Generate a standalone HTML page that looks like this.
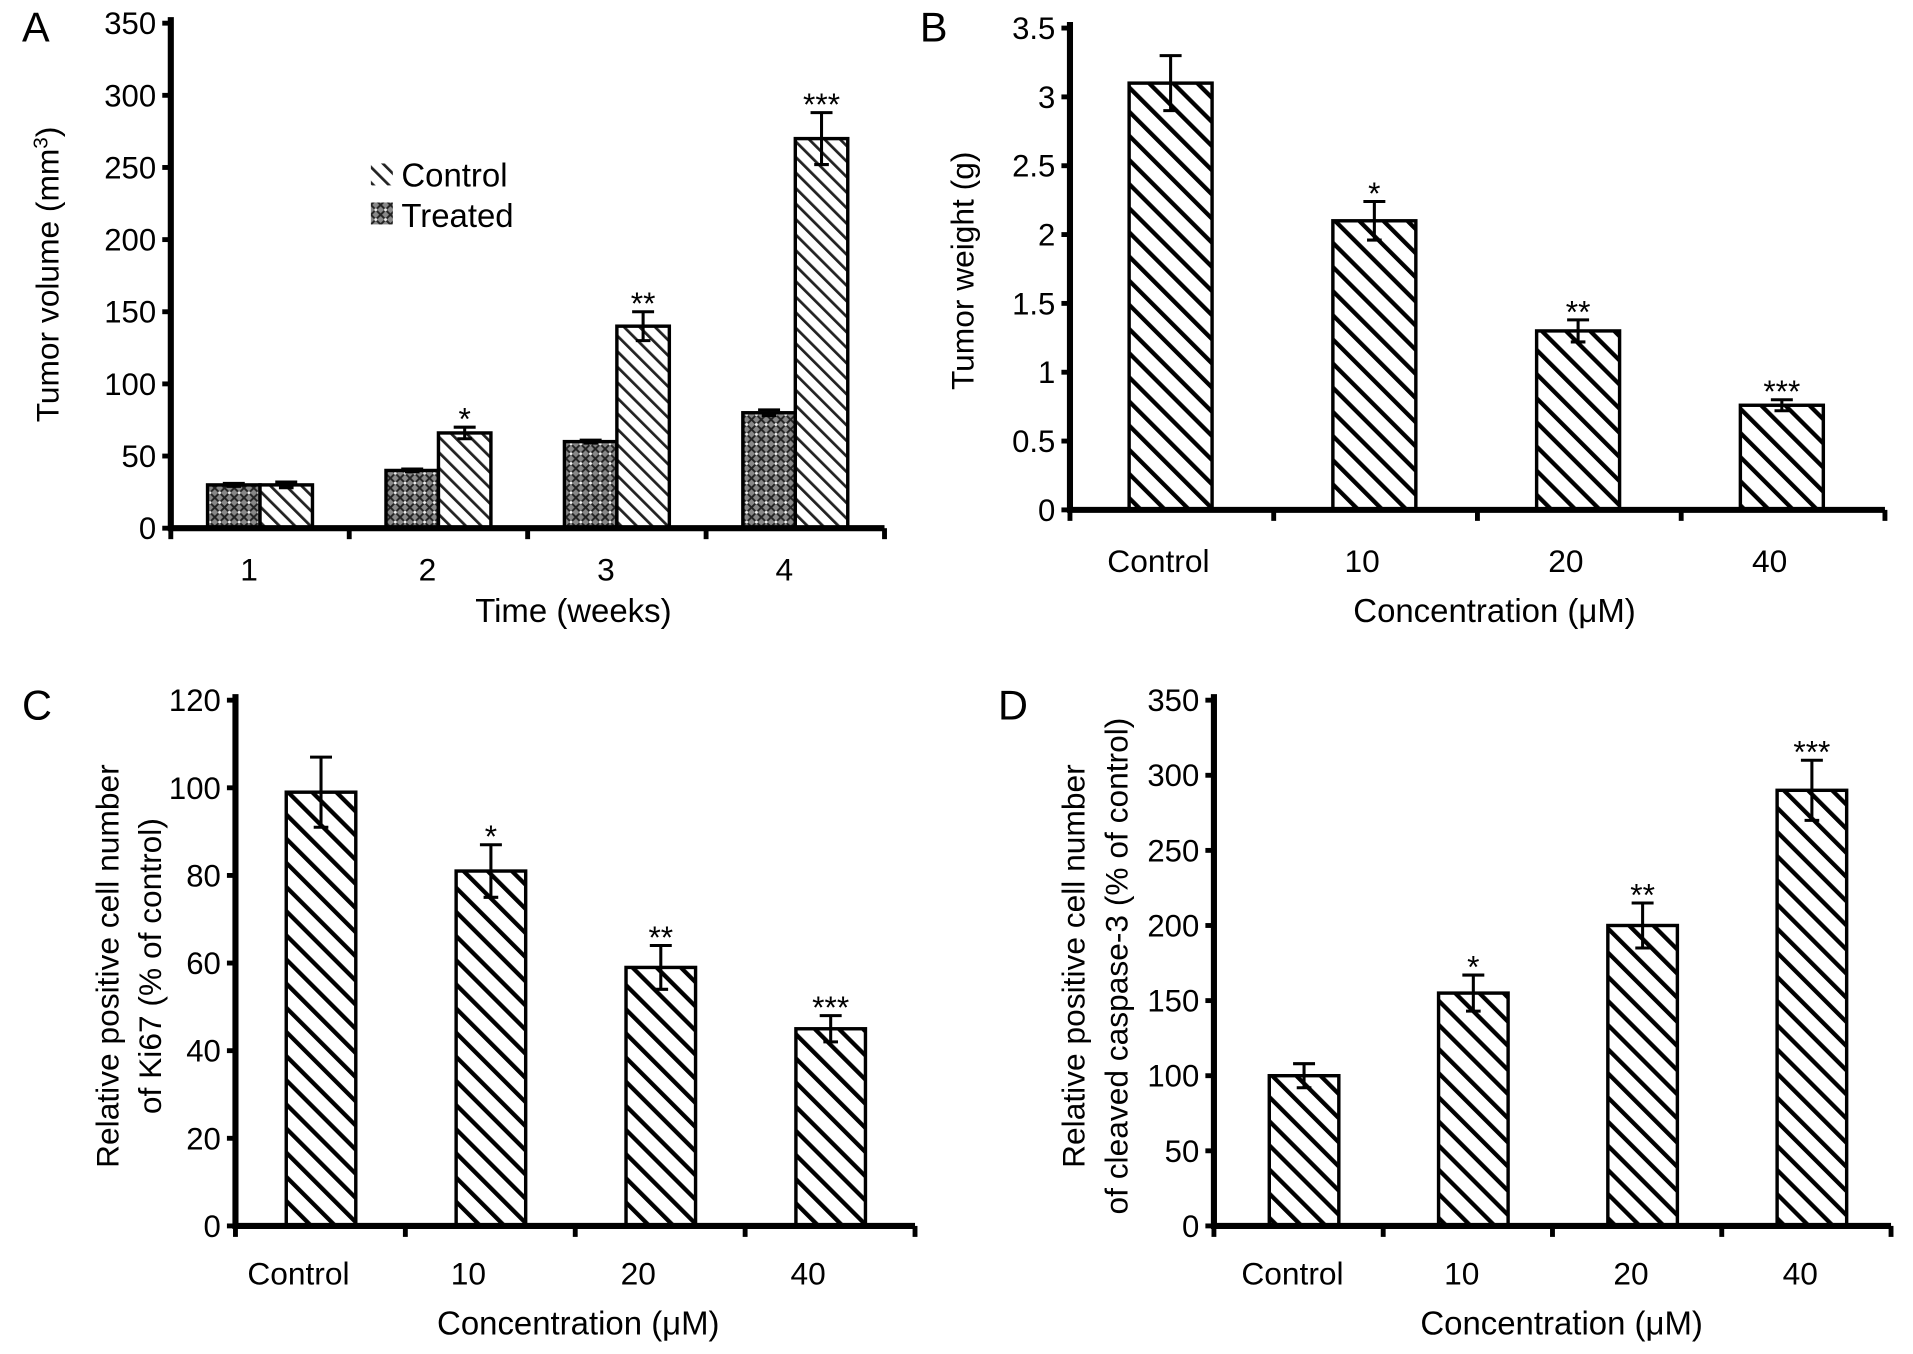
<!DOCTYPE html>
<html><head><meta charset="utf-8"><style>
html,body{margin:0;padding:0;background:#fff;}
svg{display:block;font-family:"Liberation Sans",sans-serif;}
</style></head><body>
<svg id="fig" width="1913" height="1354" viewBox="0 0 1568 1110" preserveAspectRatio="none" xmlns="http://www.w3.org/2000/svg">
<defs>
<pattern id="hatch" patternUnits="userSpaceOnUse" width="14" height="14" patternTransform="rotate(-45)">
<rect width="14" height="14" fill="#fff"/><line x1="0" y1="0" x2="0" y2="14" stroke="#000" stroke-width="7"/></pattern>
<pattern id="hatchA" patternUnits="userSpaceOnUse" width="9" height="9" patternTransform="rotate(-45)">
<rect width="9" height="9" fill="#fff"/><line x1="0" y1="0" x2="0" y2="9" stroke="#222" stroke-width="4.5"/></pattern>
<pattern id="cross" patternUnits="userSpaceOnUse" width="8" height="8">
<rect width="8" height="8" fill="#888"/><path d="M0,0L8,8M8,0L0,8" stroke="#222" stroke-width="1.6"/><circle cx="4" cy="4" r="1.2" fill="#eee"/></pattern>
</defs>
</svg>
<script>
// Panel A data
const weeks = ["1","2","3","4"];
const controlVol = [30, 66, 140, 270];
const controlVolErr = [2, 4, 10, 18];
const treatedVol = [30, 40, 60, 80];
const treatedVolErr = [1, 1, 1, 2];
const sigA = ["", "*", "**", "***"];
const ticksA = [0,50,100,150,200,250,300,350];
// Panel B data
const conc = ["Control","10","20","40"];
const weight = [3.1, 2.1, 1.3, 0.76];
const weightErr = [0.2, 0.14, 0.08, 0.04];
const sigB = ["", "*", "**", "***"];
const ticksB = ["0","0.5","1","1.5","2","2.5","3","3.5"];
// Panel C data
const ki67 = [99, 81, 59, 45];
const ki67Err = [8, 6, 5, 3];
const sigC = ["", "*", "**", "***"];
const ticksC = [0,20,40,60,80,100,120];
// Panel D data
const casp = [100, 155, 200, 290];
const caspErr = [8, 12, 15, 20];
const sigD = ["", "*", "**", "***"];
const ticksD = [0,50,100,150,200,250,300,350];

const svg = document.getElementById('fig');
const NS = 'http://www.w3.org/2000/svg';
function mk(tag, attrs, parent, text){
  const e = document.createElementNS(NS, tag);
  for (const k in attrs) e.setAttribute(k, attrs[k]);
  if (text !== undefined) e.textContent = text;
  (parent || svg).appendChild(e);
  return e;
}
function panel(cfg){
  const g = mk('g', {});
  
  
  const ymax = cfg.ymax;
  const y = v => cfg.y0 - (v / ymax) * (cfg.y0 - cfg.ytop);
  const step = (cfg.x1 - cfg.x0) / cfg.cats.length;
  cfg.series.forEach((s, si) => {
    s.values.forEach((v, i) => {
      const cx = cfg.x0 + step * (i + 0.5) + cfg.offset;
      const bx = cx + s.dx;
      const r = mk('rect', {x: bx, y: y(v), width: cfg.bw, height: cfg.y0 - y(v), fill: s.fill, stroke: '#000', 'stroke-width': 2.8}, g);
      
      
      const ex = bx + cfg.bw / 2, e = s.err[i];
      if (e > 0) {
        const eb = mk('path', {d: `M${ex},${y(v - e)}V${y(v + e)}M${ex - 9},${y(v + e)}H${ex + 9}M${ex - 6},${y(v - e)}H${ex + 6}`, stroke: '#000', 'stroke-width': 2.5, fill: 'none'}, g);
        
        
      }
      if (s.sig && s.sig[i]) {
        const t = mk('text', {x: ex, y: y(v + e) + 2, 'text-anchor': 'middle', 'font-size': 26}, g, s.sig[i]);
        
        
      }
    });
  });
  const ax = mk('path', {d: `M${cfg.x0},${cfg.ytop - 5}V${cfg.y0}H${cfg.x1}`, stroke: '#000', 'stroke-width': 5, fill: 'none'}, g);
  
  
  cfg.ticks.forEach(t => {
    const yy = y(parseFloat(t));
    mk('line', {x1: cfg.x0 - 7, x2: cfg.x0, y1: yy, y2: yy, stroke: '#000', 'stroke-width': 4}, g);
    const tl = mk('text', {x: cfg.x0 - 12, y: yy + 9, 'text-anchor': 'end', 'font-size': 25.5}, g, String(t));
    
    
  });
  for (let i = 0; i <= cfg.cats.length; i++) {
    const xx = cfg.x0 + step * i;
    mk('line', {x1: xx, x2: xx, y1: cfg.y0, y2: cfg.y0 + 9, stroke: '#000', 'stroke-width': 4}, g);
  }
  cfg.cats.forEach((c, i) => {
    const xl = mk('text', {x: cfg.x0 + step * (i + 0.5) + cfg.offset + cfg.labelDx, y: cfg.y0 + cfg.labDy, 'text-anchor': 'middle', 'font-size': 26}, g, c);
    
    
  });
  const xt = mk('text', {x: cfg.xtx, y: cfg.y0 + cfg.titDy, 'text-anchor': 'middle', 'font-size': 27}, g, cfg.xtitle);
  
  
  cfg.ytitle.forEach((line, li) => {
    const yt = mk('text', {x: 0, y: 0, 'text-anchor': 'middle', 'font-size': 26, transform: `translate(${cfg.ytx + li * 35},${cfg.yty}) rotate(-90)`}, g);
    yt.innerHTML = line;
    
    
  });
  const pl = mk('text', {x: cfg.lx, y: cfg.ly, 'font-size': 34}, g, cfg.letter);
  
  
  return g;
}
const gA = panel({name: 'panel-a-tumor-volume', letter: 'A', lx: 18, ly: 34, x0: 140, x1: 725, y0: 433, ytop: 19, ymax: 350, cats: weeks, bw: 43, offset: -1, labelDx: -8, labDy: 43, titDy: 77,
  ticks: ticksA, series: [
    {key: 'treated', values: treatedVol, err: treatedVolErr, fill: 'url(#cross)', dx: -42},
    {key: 'control', values: controlVol, err: controlVolErr, fill: 'url(#hatchA)', dx: 1, sig: sigA}],
  xtitle: 'Time (weeks)', xtx: 470, ytitle: ['Tumor volume (mm<tspan baseline-shift="super" font-size="17">3</tspan>)'], ytx: 48, yty: 225});
const gB = panel({name: 'panel-b-tumor-weight', letter: 'B', lx: 754, ly: 34, x0: 877, x1: 1545, y0: 418, ytop: 23, ymax: 3.5, cats: conc, bw: 68, offset: -1, labelDx: -10, labDy: 51, titDy: 92,
  ticks: ticksB, series: [{key: 'weight', values: weight, err: weightErr, fill: 'url(#hatch)', dx: -34, sig: sigB}],
  xtitle: 'Concentration (\u03bcM)', xtx: 1225, ytitle: ['Tumor weight (g)'], ytx: 798, yty: 222});
const gC = panel({name: 'panel-c-ki67', letter: 'C', lx: 18, ly: 590, x0: 193, x1: 750, y0: 1005, ytop: 574, ymax: 120, cats: conc, bw: 57, offset: 0, labelDx: -18, labDy: 48, titDy: 89,
  ticks: ticksC, series: [{key: 'ki67', values: ki67, err: ki67Err, fill: 'url(#hatch)', dx: -28, sig: sigC}],
  xtitle: 'Concentration (\u03bcM)', xtx: 474, ytitle: ['Relative positive cell number', 'of Ki67 (% of control)'], ytx: 97, yty: 792});
const gD = panel({name: 'panel-d-caspase3', letter: 'D', lx: 818, ly: 590, x0: 995, x1: 1550, y0: 1005, ytop: 574, ymax: 350, cats: conc, bw: 57, offset: 4, labelDx: -9, labDy: 48, titDy: 89,
  ticks: ticksD, series: [{key: 'caspase', values: casp, err: caspErr, fill: 'url(#hatch)', dx: -28, sig: sigD}],
  xtitle: 'Concentration (\u03bcM)', xtx: 1280, ytitle: ['Relative positive cell number', 'of cleaved caspase-3 (% of control)'], ytx: 889, yty: 792});
const lg = mk('g', {}, gA);


mk('rect', {x: 304, y: 134, width: 18, height: 18, fill: 'url(#hatchA)'}, lg);
mk('text', {x: 329, y: 153, 'font-size': 27}, lg, 'Control');
mk('rect', {x: 304, y: 166, width: 18, height: 18, fill: 'url(#cross)'}, lg);
mk('text', {x: 329, y: 186, 'font-size': 27}, lg, 'Treated');
</script>
</body></html>
